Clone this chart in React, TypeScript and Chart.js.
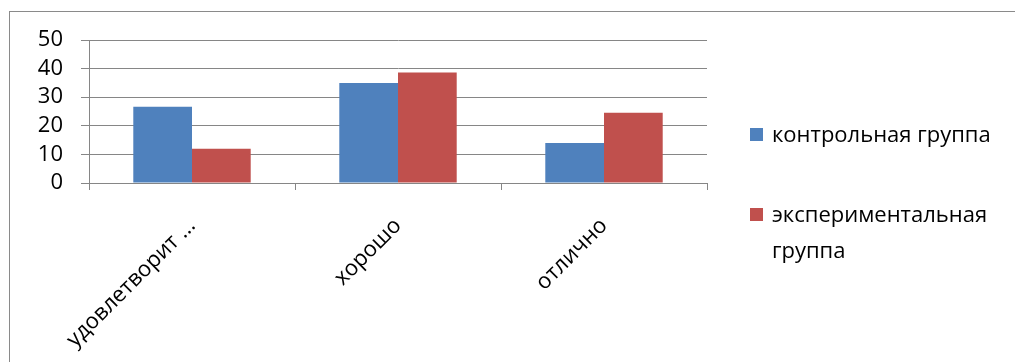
import React, { useEffect, useRef } from "react";
import { Chart, registerables } from "chart.js";

Chart.register(...registerables);

// Grades and the share of students in each group who got them
const categories = ["удовлетворит ...", "хорошо", "отлично"];
const seriesNames = ["контрольная группа", "экспериментальная группа"];
const controlValues = [26.7, 35, 14];
const experimentalValues = [12, 38.6, 24.6];
const yTicks = [0, 10, 20, 30, 40, 50];

const BLUE = "#4F81BD";
const RED = "#C0504D";
const GRID = "#868686";
const FONT = "'Open Sans', 'Noto Sans', sans-serif";
const FONT_SIZE = 22;

// Outer frame of the chart object (only its top and left edges fall inside the view)
const framePlugin = {
  id: "frame",
  beforeDraw(chart: Chart) {
    const ctx = chart.ctx;
    ctx.save();
    ctx.fillStyle = "#ffffff";
    ctx.fillRect(0, 0, chart.width, chart.height);
    ctx.strokeStyle = "#8a8a8a";
    ctx.lineWidth = 1;
    ctx.strokeRect(9.5, 11.5, chart.width + 20, chart.height + 20);
    ctx.restore();
  },
};

// Legend on the right, with the long series name wrapped onto two lines
const legendPlugin = {
  id: "sideLegend",
  afterDraw(chart: Chart) {
    const ctx = chart.ctx;
    const items = [
      { y: 134, lines: ["контрольная группа"] },
      { y: 214, lines: ["экспериментальная", "группа"] },
    ];
    ctx.save();
    ctx.font = `${FONT_SIZE}px ${FONT}`;
    ctx.textBaseline = "middle";
    ctx.textAlign = "left";
    chart.data.datasets.forEach((ds, i) => {
      const it = items[i];
      if (!it) return;
      ctx.fillStyle = ds.backgroundColor as string;
      ctx.fillRect(750, it.y - 6, 13, 13);
      ctx.fillStyle = "#000000";
      it.lines.forEach((line, j) => {
        ctx.fillText(line, 772, it.y + 2 + j * 36);
      });
    });
    ctx.restore();
  },
};

export default function App() {
  const canvasRef = useRef<HTMLCanvasElement | null>(null);

  useEffect(() => {
    if (!canvasRef.current) return;
    const chart = new Chart(canvasRef.current, {
      type: "bar",
      data: {
        labels: categories,
        datasets: [
          {
            label: seriesNames[0],
            data: controlValues,
            backgroundColor: BLUE,
            borderWidth: 0,
          },
          {
            label: seriesNames[1],
            data: experimentalValues,
            backgroundColor: RED,
            borderWidth: 0,
          },
        ],
      },
      options: {
        animation: false,
        responsive: true,
        maintainAspectRatio: false,
        devicePixelRatio: 1,
        layout: { padding: { left: 0, right: 308, top: 40, bottom: 0 } },
        datasets: {
          bar: { categoryPercentage: 0.57, barPercentage: 1 },
        },
        plugins: {
          legend: { display: false },
          tooltip: { enabled: false },
          title: { display: false },
        },
        scales: {
          x: {
            offset: true,
            grid: {
              offset: true,
              display: true,
              drawOnChartArea: false,
              drawTicks: true,
              tickLength: 7,
              color: GRID,
              lineWidth: 1,
            },
            border: { display: true, color: GRID, width: 1 },
            ticks: {
              color: "#000000",
              font: { family: FONT, size: FONT_SIZE },
              minRotation: 45,
              maxRotation: 45,
              autoSkip: false,
              padding: 23,
            },
            afterFit(scale: any) {
              scale.height = 179;
            },
          },
          y: {
            min: yTicks[0],
            max: yTicks[yTicks.length - 1],
            afterBuildTicks(scale: any) {
              scale.ticks = yTicks.map((v) => ({ value: v }));
            },
            grid: {
              display: true,
              drawOnChartArea: true,
              drawTicks: true,
              tickLength: 8,
              color: GRID,
              lineWidth: 1,
            },
            border: { display: true, color: GRID, width: 1 },
            ticks: {
              color: "#000000",
              font: { family: FONT, size: FONT_SIZE },
              padding: 18,
              autoSkip: false,
              stepSize: 10,
            },
            afterFit(scale: any) {
              scale.width = 89;
            },
          },
        },
      },
      plugins: [framePlugin, legendPlugin],
    });
    return () => chart.destroy();
  }, []);

  return (
    <div
      style={{
        position: "fixed",
        left: 0,
        top: 0,
        width: 1015,
        height: 362,
        background: "#ffffff",
      }}
    >
      <canvas ref={canvasRef} />
    </div>
  );
}
